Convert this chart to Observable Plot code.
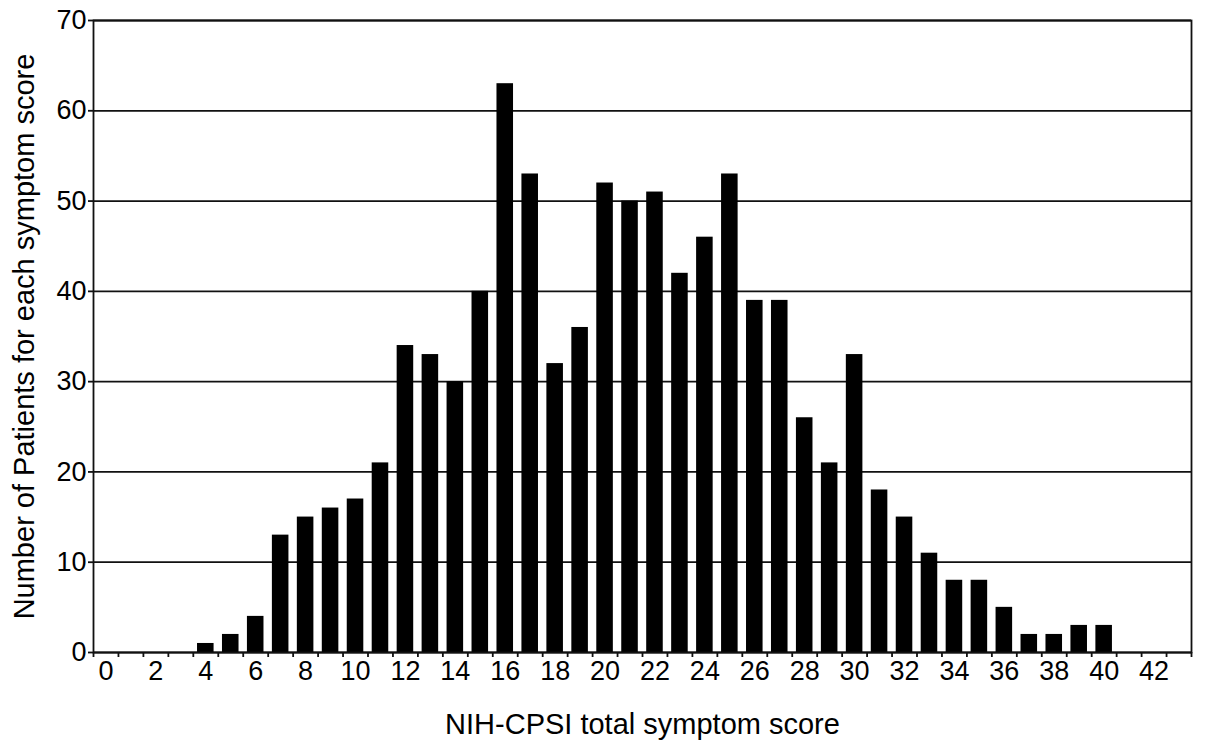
<!DOCTYPE html>
<html>
<head>
<meta charset="utf-8">
<script src="https://cdn.jsdelivr.net/npm/d3@7"></script>
<script src="https://cdn.jsdelivr.net/npm/@observablehq/plot@0.6"></script>
<style>
  html, body { margin: 0; padding: 0; background: #fff; }
  #chart svg { display: block; }
</style>
</head>
<body>
<div id="chart"></div>
<script>
const scores = [4,5,6,7,8,9,10,11,12,13,14,15,16,17,18,19,20,21,22,23,24,25,26,27,28,29,30,31,32,33,34,35,36,37,38,39,40];
const counts = [1,2,4,13,15,16,17,21,34,33,30,40,63,53,32,36,52,50,51,42,46,53,39,39,26,21,33,18,15,11,8,8,5,2,2,3,3];
const xLabelTicks = d3.range(0, 43, 2);
const xBinEdges = d3.range(0, 45, 1);
const yTicks = [0,10,20,30,40,50,60,70];

const data = scores.map((s, i) => ({score: s, count: counts[i]}));
const font = "Liberation Sans, Arial, Helvetica, sans-serif";

const chart = Plot.plot({
  width: 1205,
  height: 752,
  marginLeft: 93,
  marginRight: 14,
  marginTop: 20,
  marginBottom: 100,
  style: {fontFamily: font, background: "#fff", color: "#000"},
  x: {domain: [0, 44], type: "linear"},
  y: {domain: [0, 70]},
  marks: [
    Plot.ruleY(yTicks, {stroke: "#111", strokeWidth: 1.8}),
    Plot.rectY(data, {x: "score", y: "count", interval: 1, fill: "#000", insetLeft: 4.2, insetRight: 4.2}),
    Plot.frame({stroke: "#111", strokeWidth: 1.8}),
    Plot.axisY({ticks: yTicks, tickSize: 5, tickPadding: 2, fontSize: 27, label: null, stroke: "#111", strokeWidth: 1.8}),
    Plot.axisY({ticks: [], tickSize: 0, fontSize: 29, label: "Number of Patients for each symptom score", labelAnchor: "center", labelArrow: "none", labelOffset: 80}),
    Plot.axisX({ticks: xBinEdges, tickSize: 5, tickFormat: () => "", label: null, stroke: "#111", strokeWidth: 1.8}),
    Plot.axisX({ticks: xLabelTicks.map(d => d + 0.5), tickSize: 0, tickPadding: 8, tickFormat: d => String(d - 0.5), fontSize: 27, label: null}),
    Plot.axisX({ticks: [], tickSize: 0, fontSize: 29, label: "NIH-CPSI total symptom score", labelAnchor: "center", labelArrow: "none", labelOffset: 81})
  ]
});
document.getElementById("chart").appendChild(chart);
</script>
</body>
</html>
